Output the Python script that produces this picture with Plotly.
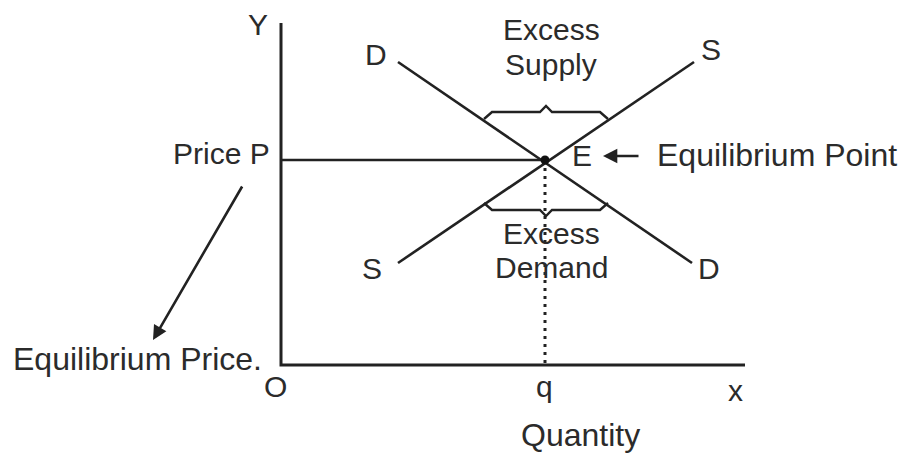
import plotly.graph_objects as go

# diagram coordinates (image-like units, y grows downward)
axis_x = [281, 281, 745]
axis_y = [23, 365, 365]

demand_x = [398, 692]
demand_y = [62, 263]
supply_x = [398, 694]
supply_y = [263, 62]

eq_point = (545, 160)
price_line_x = [281, 545]
price_line_y = [160, 160]
qty_line_x = [545, 545]
qty_line_y = [160, 365]

brace_top_x = [484, 492, 540, 546, 552, 600, 608]
brace_top_y = [119, 112, 112, 106, 112, 112, 119]
brace_bot_x = [484, 492, 540, 546, 552, 600, 608]
brace_bot_y = [203, 210, 210, 216, 210, 210, 203]

labels = ["Y", "D", "S", "Excess", "Supply", "Price P", "E", "Equilibrium Point",
          "Excess", "Demand", "S", "D", "Equilibrium Price.", "O", "q", "x", "Quantity"]
label_x = [258, 376, 711, 551, 551, 221, 582, 777, 551, 551, 372, 709, 137, 275, 544, 735, 580]
label_y = [24, 54, 49, 29, 64, 153, 155, 155, 233, 267, 268, 268, 359, 386, 386, 390, 435]
label_size = [30, 30, 30, 30, 30, 30, 30, 32, 30, 30, 30, 30, 32, 30, 30, 30, 32]

ink = "#222222"
txt = "#2b2b2b"

fig = go.Figure()

def add_line(xs, ys, dash="solid", width=2.6):
    fig.add_trace(go.Scatter(x=xs, y=ys, mode="lines",
                             line=dict(color=ink, width=width, dash=dash),
                             hoverinfo="skip", showlegend=False))

add_line(axis_x, axis_y, width=3)
add_line(demand_x, demand_y)
add_line(supply_x, supply_y)
add_line(price_line_x, price_line_y)
add_line(qty_line_x, qty_line_y, dash="3px,5px", width=3)
add_line(brace_top_x, brace_top_y, width=2.4)
add_line(brace_bot_x, brace_bot_y, width=2.4)

fig.add_trace(go.Scatter(x=[eq_point[0]], y=[eq_point[1]], mode="markers",
                         marker=dict(color="#111111", size=9),
                         hoverinfo="skip", showlegend=False))

for t, x, y, s in zip(labels, label_x, label_y, label_size):
    fig.add_annotation(x=x, y=y, text=t, showarrow=False,
                       xanchor="center", yanchor="middle",
                       font=dict(family="Liberation Sans, Arial", size=s, color=txt))

# arrow pointing at E
fig.add_annotation(x=603, y=156, ax=640, ay=156, xref="x", yref="y",
                   axref="x", ayref="y", text="", showarrow=True,
                   arrowhead=2, arrowsize=1.1, arrowwidth=2.6, arrowcolor=ink)
# arrow to equilibrium price label
fig.add_annotation(x=153, y=340, ax=243, ay=185, xref="x", yref="y",
                   axref="x", ayref="y", text="", showarrow=True,
                   arrowhead=2, arrowsize=1.1, arrowwidth=2.6, arrowcolor=ink)

fig.update_xaxes(range=[0, 902], visible=False, fixedrange=True)
fig.update_yaxes(range=[453, 0], visible=False, fixedrange=True)
fig.update_layout(width=902, height=453, margin=dict(l=0, r=0, t=0, b=0),
                  plot_bgcolor="white", paper_bgcolor="white")

# drop the default page margin so the figure fills the window
fig.write_html("out.html", config={"displayModeBar": False},
               post_script="document.body.style.margin='0';")
